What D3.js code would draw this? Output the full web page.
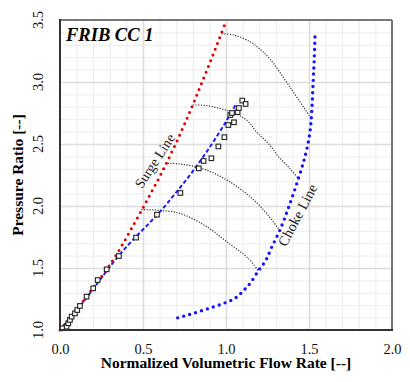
<!DOCTYPE html>
<html lang="en">
<head>
<meta charset="UTF-8">
<title>FRIB CC 1</title>
<script src="https://d3js.org/d3.v7.min.js"></script>
<style>
  body { margin: 0; background: #fff; }
  svg { display: block; }
</style>
</head>
<body>
<svg width="410" height="382"></svg>
<script>
// ---- data ----
const xTicks = [0, 0.5, 1.0, 1.5, 2.0];
const yTicks = [1.0, 1.5, 2.0, 2.5, 3.0, 3.5];

// surge line (red dots)
const surgeLine = [
    [0.0, 1.0], [0.05, 1.08], [0.1, 1.165], [0.15, 1.25], [0.2, 1.34], [0.25, 1.43],
    [0.3, 1.525], [0.35, 1.63], [0.4, 1.745], [0.45, 1.865], [0.5, 1.985],
    [0.55, 2.11], [0.6, 2.235], [0.65, 2.37], [0.7, 2.51], [0.75, 2.66],
    [0.8, 2.815], [0.85, 2.98], [0.9, 3.145], [0.95, 3.315], [1.0, 3.49]
];

// choke line (blue dots)
const chokeLine = [
    [0.709, 1.098], [0.78, 1.125], [0.853, 1.155], [0.928, 1.188], [1.0, 1.222],
    [1.054, 1.256], [1.1, 1.31], [1.145, 1.376], [1.195, 1.478], [1.241, 1.565],
    [1.275, 1.667], [1.325, 1.806], [1.38, 2.0], [1.436, 2.22], [1.48, 2.42],
    [1.506, 2.6], [1.516, 2.75], [1.525, 3.0], [1.532, 3.2], [1.537, 3.41]
];

// blue dashed line
const operLine = [
    [0.0, 1.0], [0.1, 1.158], [0.2, 1.33], [0.3, 1.51], [0.4, 1.67], [0.5, 1.81],
    [0.6, 1.95], [0.7, 2.11], [0.8, 2.28], [0.9, 2.47], [1.0, 2.68], [1.064, 2.83]
];

// speed lines (black dotted)
const speedA = [[0.974, 3.39], [1.05, 3.378], [1.145, 3.325], [1.2, 3.27], [1.265, 3.185], [1.39, 2.95], [1.516, 2.70]];
const speedB = [[0.80, 2.815], [0.88, 2.81], [0.954, 2.79], [1.03, 2.76], [1.094, 2.72], [1.145, 2.667], [1.175, 2.61], [1.265, 2.49], [1.315, 2.40], [1.38, 2.31], [1.436, 2.22]];
const speedC = [[0.633, 2.344], [0.703, 2.342], [0.861, 2.30], [1.004, 2.21], [1.145, 2.075], [1.245, 1.94], [1.322, 1.806]];
const speedD = [[0.49, 1.97], [0.562, 1.968], [0.723, 1.94], [0.884, 1.833], [1.004, 1.712], [1.134, 1.578], [1.195, 1.478]];

// measured points (open squares)
const testPoints = [
    [0.014, 1.014], [0.04, 1.027], [0.05, 1.054], [0.06, 1.081], [0.07, 1.108],
    [0.09, 1.134], [0.104, 1.161], [0.12, 1.194], [0.16, 1.269], [0.2, 1.336],
    [0.227, 1.403], [0.281, 1.489], [0.355, 1.597], [0.458, 1.745], [0.584, 1.93],
    [0.725, 2.105], [0.836, 2.304], [0.865, 2.363], [0.912, 2.385], [0.954, 2.48],
    [0.99, 2.555], [1.014, 2.653], [1.048, 2.675], [1.026, 2.734], [1.036, 2.75],
    [1.07, 2.757], [1.078, 2.79], [1.098, 2.85], [1.118, 2.823]
];

// ---- chart ----
const svg = d3.select("svg");
const width = +svg.attr("width"), height = +svg.attr("height");
const margin = { top: 20, right: 18, bottom: 52, left: 60 };
const innerWidth = width - margin.left - margin.right;
const innerHeight = height - margin.top - margin.bottom;
const serif = "'Liberation Serif', 'Times New Roman', serif";

const x = d3.scaleLinear().domain([0, 2]).range([0, innerWidth]);
const y = d3.scaleLinear().domain([1, 3.5]).range([innerHeight, 0]);

const g = svg.append("g").attr("transform", `translate(${margin.left},${margin.top})`);

// grid: minor every 0.1, major every 0.5
const minorX = d3.range(1, 20).map(i => i / 10).filter(v => Math.round(v * 10) % 5 !== 0);
const minorY = d3.range(11, 35).map(i => i / 10).filter(v => Math.round(v * 10) % 5 !== 0);

function gridStyle(s, color, w) {
    s.select(".domain").remove();
    s.selectAll("text").remove();
    s.selectAll("line").attr("stroke", color).attr("stroke-width", w);
}

g.append("g")
    .attr("transform", `translate(0,${innerHeight})`)
    .call(d3.axisBottom(x).tickValues(minorX).tickSize(-innerHeight).tickFormat(""))
    .call(gridStyle, "#ececec", 1);

g.append("g")
    .call(d3.axisLeft(y).tickValues(minorY).tickSize(-innerWidth).tickFormat(""))
    .call(gridStyle, "#ececec", 1);

g.append("g")
    .attr("transform", `translate(0,${innerHeight})`)
    .call(d3.axisBottom(x).tickValues([0.5, 1.0, 1.5]).tickSize(-innerHeight).tickFormat(""))
    .call(gridStyle, "#dcdcdc", 1.6);

g.append("g")
    .call(d3.axisLeft(y).tickValues([1.5, 2.0, 2.5, 3.0]).tickSize(-innerWidth).tickFormat(""))
    .call(gridStyle, "#dcdcdc", 1.6);

const line = d3.line().x(d => x(d[0])).y(d => y(d[1])).curve(d3.curveCatmullRom);

// speed lines
[speedA, speedB, speedC, speedD].forEach(s => {
    g.append("path")
        .datum(s)
        .attr("d", line)
        .attr("fill", "none")
        .attr("stroke", "#333")
        .attr("stroke-width", 1.2)
        .attr("stroke-dasharray", "1.2 1.5");
});

// choke line
g.append("path")
    .datum(chokeLine)
    .attr("d", line)
    .attr("fill", "none")
    .attr("stroke", "#1414ff")
    .attr("stroke-width", 3.4)
    .attr("stroke-linecap", "round")
    .attr("stroke-dasharray", "0 6.2");

// blue dashed line
g.append("path")
    .datum(operLine)
    .attr("d", line)
    .attr("fill", "none")
    .attr("stroke", "#1a1aff")
    .attr("stroke-width", 2)
    .attr("stroke-dasharray", "4 2.4");

// surge line
g.append("path")
    .datum(surgeLine)
    .attr("d", line)
    .attr("fill", "none")
    .attr("stroke", "#e00000")
    .attr("stroke-width", 3)
    .attr("stroke-linecap", "round")
    .attr("stroke-dasharray", "0 6.2");

// measured squares
g.selectAll("rect.pt")
    .data(testPoints)
    .enter()
    .append("rect")
    .attr("class", "pt")
    .attr("x", d => x(d[0]) - 2.3)
    .attr("y", d => y(d[1]) - 2.3)
    .attr("width", 4.6)
    .attr("height", 4.6)
    .attr("fill", "#fff")
    .attr("stroke", "#222")
    .attr("stroke-width", 1.1);

// frame
g.append("line").attr("x1", 0).attr("x2", innerWidth).attr("y1", 0).attr("y2", 0)
    .attr("stroke", "#777").attr("stroke-width", 2);
g.append("line").attr("x1", innerWidth).attr("x2", innerWidth).attr("y1", 0).attr("y2", innerHeight)
    .attr("stroke", "#777").attr("stroke-width", 2);
g.append("line").attr("x1", 0).attr("x2", 0).attr("y1", -1).attr("y2", innerHeight + 1)
    .attr("stroke", "#333").attr("stroke-width", 2);
g.append("line").attr("x1", -1).attr("x2", innerWidth + 1).attr("y1", innerHeight).attr("y2", innerHeight)
    .attr("stroke", "#333").attr("stroke-width", 2);

// x tick labels
const xAxis = g.append("g")
    .attr("transform", `translate(0,${innerHeight})`)
    .call(d3.axisBottom(x).tickValues(xTicks).tickSize(0).tickPadding(14).tickFormat(d3.format(".1f")));
xAxis.select(".domain").remove();
xAxis.selectAll("text").style("font-family", serif).style("font-size", "14.5px").attr("fill", "#111");

// y tick labels (rotated, as in the original)
g.selectAll("text.ytick")
    .data(yTicks)
    .enter()
    .append("text")
    .attr("class", "ytick")
    .attr("transform", d => `translate(-17,${y(d)}) rotate(-90)`)
    .attr("text-anchor", "middle")
    .style("font-family", serif).style("font-size", "14.5px").attr("fill", "#111")
    .text(d3.format(".1f"));

// axis titles
svg.append("text")
    .attr("x", margin.left + innerWidth / 2)
    .attr("y", 368)
    .attr("text-anchor", "middle")
    .style("font-family", serif).style("font-size", "15.5px").style("font-weight", "bold")
    .text("Normalized Volumetric Flow Rate [--]");

svg.append("text")
    .attr("transform", `translate(23,${margin.top + innerHeight / 2}) rotate(-90)`)
    .attr("text-anchor", "middle")
    .style("font-family", serif).style("font-size", "15.5px").style("font-weight", "bold")
    .text("Pressure Ratio [--]");

// panel title
g.append("text")
    .attr("x", 6)
    .attr("y", 20.5)
    .style("font-family", serif).style("font-size", "18.5px")
    .style("font-weight", "bold").style("font-style", "italic")
    .text("FRIB CC 1");

// line labels
g.append("text")
    .attr("transform", `translate(${155 - margin.left},${161 - margin.top}) rotate(-57)`)
    .attr("text-anchor", "middle").attr("dominant-baseline", "central")
    .style("font-family", serif).style("font-size", "14px").attr("fill", "#222")
    .text("Surge Line");

g.append("text")
    .attr("transform", `translate(${297.5 - margin.left},${215 - margin.top}) rotate(-62)`)
    .attr("text-anchor", "middle").attr("dominant-baseline", "central")
    .style("font-family", serif).style("font-size", "14.5px").attr("fill", "#222")
    .text("Choke Line");
</script>
</body>
</html>
